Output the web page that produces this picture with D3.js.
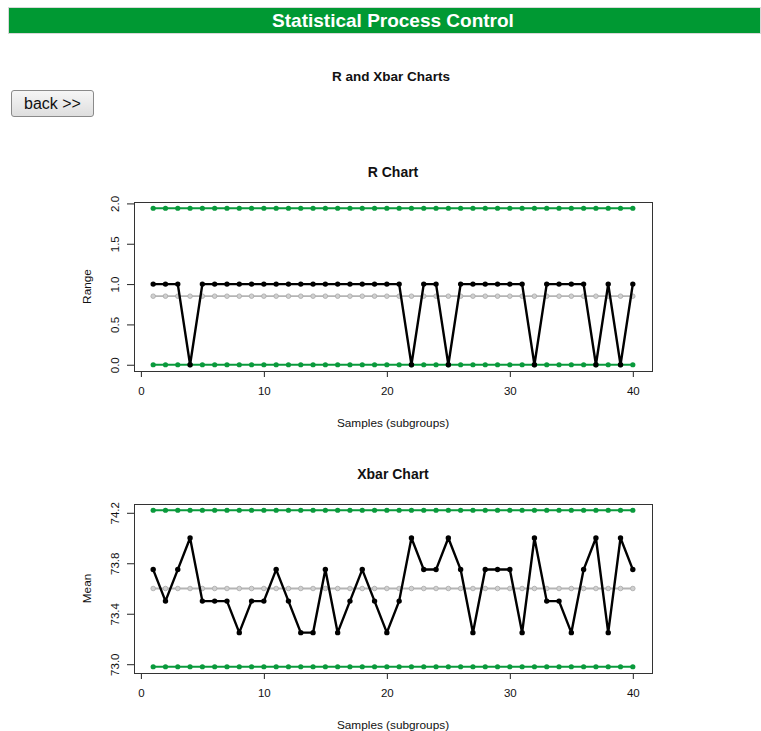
<!DOCTYPE html>
<html>
<head>
<meta charset="utf-8">
<script src="https://d3js.org/d3.v7.min.js"></script>
<style>
  html, body { margin: 0; padding: 0; background: #fff; width: 761px; height: 731px; overflow: hidden; }
  body { position: relative; font-family: "Liberation Sans", Arial, sans-serif; }
  #header { position: absolute; left: 8px; top: 7px; width: 753px; height: 27px; background: #009933; border: 1px solid #d8d8d8; box-sizing: border-box; }
  #back { position: absolute; left: 11px; top: 90px; width: 83px; height: 27px; border: 1px solid #8a8a8a; border-radius: 3px;
          background: linear-gradient(#f6f6f6, #dedede); font-family: "Liberation Sans", Arial, sans-serif; font-size: 16px; color: #111; padding: 0; box-sizing: border-box; }
  svg { position: absolute; left: 0; top: 0; }
</style>
</head>
<body>
<div id="header"></div>
<button id="back">back &gt;&gt;</button>
<svg id="chart" width="761" height="731"></svg>
<script>
// ---- data ----
const samples = [1,2,3,4,5,6,7,8,9,10,11,12,13,14,15,16,17,18,19,20,21,22,23,24,25,26,27,28,29,30,31,32,33,34,35,36,37,38,39,40];
const rangeValues = [1,1,1,0,1,1,1,1,1,1,1,1,1,1,1,1,1,1,1,1,1,0,1,1,0,1,1,1,1,1,1,0,1,1,1,1,0,1,0,1];
const meanValues = [73.75,73.5,73.75,74.0,73.5,73.5,73.5,73.25,73.5,73.5,
                    73.75,73.5,73.25,73.25,73.75,73.25,73.5,73.75,73.5,73.25,
                    73.5,74.0,73.75,73.75,74.0,73.75,73.25,73.75,73.75,73.75,
                    73.25,74.0,73.5,73.5,73.25,73.75,74.0,73.25,74.0,73.75];
const rLimits = { lcl: 0, cl: 0.85, ucl: 1.94 };
const xLimits = { lcl: 72.98, cl: 73.6, ucl: 74.22 };
const xTicks = [0, 10, 20, 30, 40];
const rTicks = [0, 0.5, 1.0, 1.5, 2.0];
const meanTicks = [73.0, 73.4, 73.8, 74.2];
const pageTitle = "Statistical Process Control";
const subTitle = "R and Xbar Charts";
const xLabel = "Samples (subgroups)";

// ---- drawing ----
const svg = d3.select("#chart");
const GREEN = "#0a9a3c";
const GRAY = "#b4b4b4";
const FONT = "'Liberation Sans', Arial, sans-serif";

svg.append("text").attr("x", 393).attr("y", 27).attr("text-anchor", "middle")
  .attr("fill", "#fff").attr("font-family", FONT).attr("font-weight", "bold").attr("font-size", 19)
  .text(pageTitle);
svg.append("text").attr("x", 391).attr("y", 81).attr("text-anchor", "middle")
  .attr("fill", "#111").attr("font-family", FONT).attr("font-weight", "bold").attr("font-size", 13.5)
  .text(subTitle);

function extent4(vals) {
  const lo = d3.min(vals), hi = d3.max(vals);
  const pad = 0.04 * (hi - lo);
  return [lo - pad, hi + pad];
}

function drawPanel(opt) {
  const left = 134, right = 652, top = opt.top, bottom = opt.top + 169;
  const xs = d3.scaleLinear().domain(extent4(samples)).range([left, right]);
  const ys = d3.scaleLinear().domain(extent4([opt.lim.lcl, opt.lim.ucl, ...opt.values])).range([bottom, top]);
  const g = svg.append("g");

  // title
  g.append("text").attr("x", (left + right) / 2).attr("y", top - 25).attr("text-anchor", "middle")
    .attr("font-family", FONT).attr("font-weight", "bold").attr("font-size", 14).attr("fill", "#111")
    .text(opt.title);

  // x axis
  const xa = g.append("g").attr("transform", `translate(0,${bottom})`)
    .call(d3.axisBottom(xs).tickValues(xTicks).tickSize(6).tickPadding(10).tickFormat(d3.format("d")));
  xa.select(".domain").attr("d", `M${xs(xTicks[0])},0.5H${xs(xTicks[xTicks.length-1])}`).attr("stroke", "#222");
  xa.selectAll("text").attr("font-family", FONT).attr("font-size", 11.5).attr("fill", "#111");
  xa.selectAll(".tick line").attr("stroke", "#222");

  // y axis
  const ya = g.append("g").attr("transform", `translate(${left},0)`)
    .call(d3.axisLeft(ys).tickValues(opt.ticks).tickSize(7).tickPadding(0).tickFormat(d3.format(".1f")));
  ya.select(".domain").remove();
  ya.selectAll(".tick line").attr("stroke", "#222");
  ya.selectAll("text").attr("font-family", FONT).attr("font-size", 11.5).attr("fill", "#111")
    .attr("text-anchor", "middle").attr("x", 0).attr("dy", null)
    .attr("transform", "translate(-18,0) rotate(-90)").attr("y", 0).attr("dominant-baseline", "middle");

  // axis titles
  g.append("text").attr("x", (left + right) / 2).attr("y", bottom + 56).attr("text-anchor", "middle")
    .attr("font-family", FONT).attr("font-size", 11.8).attr("fill", "#111").text(xLabel);
  g.append("text").attr("transform", `translate(91,${(top + bottom) / 2}) rotate(-90)`).attr("text-anchor", "middle")
    .attr("font-family", FONT).attr("font-size", 11.8).attr("fill", "#111").text(opt.ylab);

  const line = d3.line().x((d, i) => xs(samples[i])).y(d => ys(d));

  // control limits
  [opt.lim.ucl, opt.lim.lcl].forEach(v => {
    const vals = samples.map(() => v);
    g.append("path").attr("d", line(vals)).attr("fill", "none").attr("stroke", GREEN).attr("stroke-width", 2);
    g.selectAll(null).data(vals).enter().append("circle")
      .attr("cx", (d, i) => xs(samples[i])).attr("cy", d => ys(d)).attr("r", 2.6).attr("fill", GREEN);
  });
  // center line
  const cvals = samples.map(() => opt.lim.cl);
  g.append("path").attr("d", line(cvals)).attr("fill", "none").attr("stroke", GRAY).attr("stroke-width", 1.8);
  g.selectAll(null).data(cvals).enter().append("circle")
    .attr("cx", (d, i) => xs(samples[i])).attr("cy", d => ys(d)).attr("r", 2.3)
    .attr("fill", "#d0d0d0").attr("stroke", "#a8a8a8").attr("stroke-width", 0.8);

  // data
  g.append("path").attr("d", line(opt.values)).attr("fill", "none").attr("stroke", "#000").attr("stroke-width", 2.4)
    .attr("stroke-linejoin", "round");
  g.selectAll(null).data(opt.values).enter().append("circle")
    .attr("cx", (d, i) => xs(samples[i])).attr("cy", d => ys(d)).attr("r", 2.7).attr("fill", "#000");

  // box
  g.append("rect").attr("x", left + 0.5).attr("y", top + 0.5).attr("width", right - left).attr("height", bottom - top)
    .attr("fill", "none").attr("stroke", "#333").attr("stroke-width", 1);
}

drawPanel({ top: 202, title: "R Chart", ylab: "Range", values: rangeValues, lim: rLimits, ticks: rTicks });
drawPanel({ top: 504, title: "Xbar Chart", ylab: "Mean", values: meanValues, lim: xLimits, ticks: meanTicks });
</script>
</body>
</html>
